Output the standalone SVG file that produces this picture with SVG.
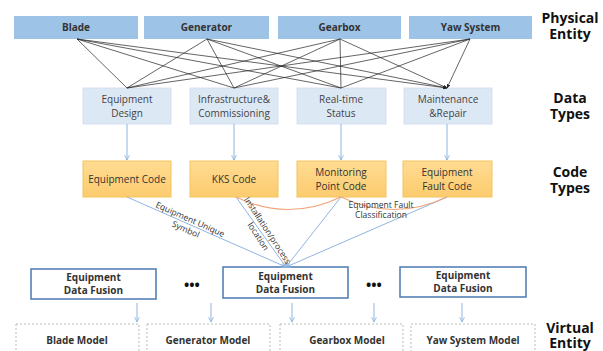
<svg xmlns="http://www.w3.org/2000/svg" width="603" height="351" viewBox="0 0 603 351">
<defs>
<marker id="ab" viewBox="0 0 10 10" refX="9" refY="5" markerWidth="6" markerHeight="6" orient="auto"><path d="M0,1 L10,5 L0,9 z" fill="#222"/></marker>
<marker id="al" viewBox="0 0 10 10" refX="9" refY="5" markerWidth="6" markerHeight="6" orient="auto"><path d="M1,1 L9,5 L1,9" fill="none" stroke="#8fb4e0" stroke-width="1.5"/></marker>
<linearGradient id="og" x1="0" y1="0" x2="0" y2="1"><stop offset="0" stop-color="#ffdc92"/><stop offset="1" stop-color="#fccb6e"/></linearGradient>
<style>
text{font-family:"Open Sans","Noto Sans","Liberation Sans",sans-serif;text-anchor:middle;fill:#333}
.pe rect{fill:#9dc3e6}
.pe text{font-size:10px;font-weight:bold}
.dt rect{fill:#dde8f5;stroke:#cfdcee;stroke-width:0.8}
.dt text{font-size:10px;fill:#444}
.ct rect{fill:url(#og);stroke:#f4c45e;stroke-width:1}
.ct text{font-size:10px;fill:#333}
.fu rect{fill:#fff;stroke:#4a79b0;stroke-width:1.5}
.fu text{font-size:10px;font-weight:bold}
.vm rect{fill:#fff;stroke:#aaa;stroke-width:0.8;stroke-dasharray:2 2}
.vm text{font-size:10px;font-weight:bold}
.lbl{font-size:14px;font-weight:bold;fill:#111}
.blk{stroke:#222;stroke-width:0.7;fill:none;marker-end:url(#ab)}
.blu{stroke:#8fb4e0;stroke-width:1;fill:none;marker-end:url(#al)}
.org{stroke:#f0a57a;stroke-width:1.2;fill:none}
.el{font-size:8.5px;fill:#333}
.dots{font-size:14px;font-weight:bold;fill:#111}
</style>
</defs>

<g id="physical">
<g id="pe-blade" class="pe"><rect x="14" y="16" width="124" height="23"/><text x="76" y="31">Blade</text></g>
<g id="pe-generator" class="pe"><rect x="144" y="16" width="125" height="23"/><text x="206.5" y="31">Generator</text></g>
<g id="pe-gearbox" class="pe"><rect x="278" y="16" width="123" height="23"/><text x="339.5" y="31">Gearbox</text></g>
<g id="pe-yaw" class="pe"><rect x="409" y="16" width="123" height="23"/><text x="470.5" y="31">Yaw System</text></g>
</g>

<g id="dt-design" class="dt"><rect x="83" y="88" width="88" height="36"/><text x="127" y="103">Equipment<tspan x="127" y="117">Design</tspan></text></g>
<g id="dt-infra" class="dt"><rect x="190" y="88" width="88" height="36"/><text x="234" y="103">Infrastructure&amp;<tspan x="234" y="117">Commissioning</tspan></text></g>
<g id="dt-status" class="dt"><rect x="297" y="88" width="89" height="36"/><text x="341" y="103">Real-time<tspan x="341" y="117">Status</tspan></text></g>
<g id="dt-maint" class="dt"><rect x="404" y="88" width="88" height="36"/><text x="448" y="103">Maintenance<tspan x="448" y="117">&amp;Repair</tspan></text></g>

<g id="ct-equip" class="ct"><rect x="83" y="161" width="88" height="36"/><text x="127" y="183">Equipment Code</text></g>
<g id="ct-kks" class="ct"><rect x="190" y="161" width="88" height="36"/><text x="234" y="183">KKS Code</text></g>
<g id="ct-mon" class="ct"><rect x="297" y="161" width="89" height="36"/><text x="341" y="176">Monitoring<tspan x="341" y="190">Point Code</tspan></text></g>
<g id="ct-fault" class="ct"><rect x="403" y="161" width="89" height="36"/><text x="447" y="176">Equipment<tspan x="447" y="190">Fault Code</tspan></text></g>

<g id="fu-left" class="fu"><rect x="31" y="269" width="125" height="30"/><text x="93.5" y="281">Equipment<tspan x="93.5" y="294">Data Fusion</tspan></text></g>
<g id="fu-center" class="fu"><rect x="223" y="267" width="125" height="31"/><text x="285.5" y="280">Equipment<tspan x="285.5" y="293">Data Fusion</tspan></text></g>
<g id="fu-right" class="fu"><rect x="400" y="267" width="126" height="30"/><text x="463" y="279">Equipment<tspan x="463" y="292">Data Fusion</tspan></text></g>
<text class="dots" x="192" y="290">•••</text>
<text class="dots" x="374" y="290">•••</text>

<g id="vm-blade" class="vm"><rect x="16" y="324" width="123" height="40"/><text x="77" y="344">Blade Model</text></g>
<g id="vm-generator" class="vm"><rect x="147" y="324" width="123" height="40"/><text x="208" y="344">Generator Model</text></g>
<g id="vm-gearbox" class="vm"><rect x="280" y="324" width="123" height="40"/><text x="347" y="344">Gearbox Model</text></g>
<g id="vm-yaw" class="vm"><rect x="411" y="324" width="124" height="40"/><text x="473" y="344">Yaw System Model</text></g>

<g id="connectors">
<path class="blk" d="M77,39 L127,88 M77,39 L234,88 M77,39 L341,88 M77,39 L447,88"/>
<path class="blk" d="M207,39 L127,88 M207,39 L234,88 M207,39 L341,88 M207,39 L447,88"/>
<path class="blk" d="M340,39 L127,88 M340,39 L234,88 M340,39 L341,88 M340,39 L447,88"/>
<path class="blk" d="M470,39 L127,88 M470,39 L234,88 M470,39 L341,88 M470,39 L447,88"/>
<path class="blu" d="M127,124 L127,160"/>
<path class="blu" d="M234,124 L234,160"/>
<path class="blu" d="M341,124 L341,160"/>
<path class="blu" d="M447,124 L447,160"/>
<path class="blu" d="M127,197 L286,267"/>
<path class="blu" d="M236,197 L286,267"/>
<path class="blu" d="M341,197 L286,267"/>
<path class="blu" d="M447,197 L286,267"/>
<path class="org" d="M236,197 Q288,222 341,197"/>
<path class="org" d="M341,197 Q394,222 447,197"/>
<path class="blu" d="M137,303 L137,322"/>
<path class="blu" d="M211,303 L211,322"/>
<path class="blu" d="M292,303 L292,322"/>
<path class="blu" d="M374,303 L374,322"/>
<path class="blu" d="M462,303 L462,322"/>
<text class="el" transform="translate(189,222) rotate(24)">Equipment Unique<tspan x="0" y="11">Symbol</tspan></text>
<text class="el" transform="translate(265,232) rotate(57)">Installation/process<tspan x="0" y="11">location</tspan></text>
<text class="el" x="381" y="208">Equipment Fault<tspan x="381" y="218">Classification</tspan></text>
</g>

<text class="lbl" x="570" y="23">Physical<tspan x="570" y="39">Entity</tspan></text>
<text class="lbl" x="570" y="103">Data<tspan x="570" y="119">Types</tspan></text>
<text class="lbl" x="570" y="177">Code<tspan x="570" y="193">Types</tspan></text>
<text class="lbl" x="570" y="333">Virtual<tspan x="570" y="348">Entity</tspan></text>
</svg>
